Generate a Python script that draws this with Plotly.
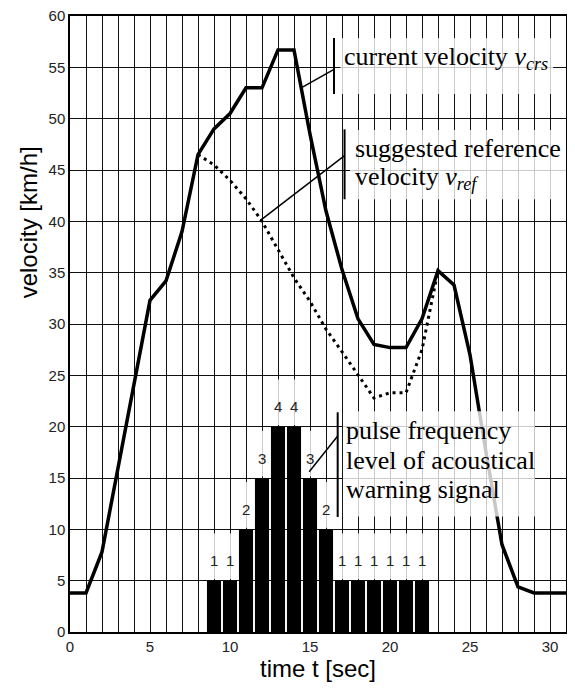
import plotly.graph_objects as go

# ---- data ----
t_crs = list(range(0, 32))
v_crs = [3.8, 3.8, 7.8, 16.0, 24.5, 32.3, 34.2, 39.0, 46.5, 49.0, 50.5, 53.0, 53.0, 56.7, 56.7, 48.5,
         41.0, 35.3, 30.5, 28.0, 27.7, 27.7, 30.5, 35.2, 33.8, 27.0, 17.5, 8.5, 4.4, 3.8, 3.8, 3.8]

t_ref = list(range(8, 24))
v_ref = [46.5, 45.5, 44.0, 42.2, 40.0, 37.3, 34.5, 32.2, 29.5, 27.3, 25.0, 22.8, 23.3, 23.3, 27.5, 35.2]

t_bar = list(range(9, 23))
bar_vals = [5, 5, 10, 15, 20, 20, 15, 10, 5, 5, 5, 5, 5, 5]
bar_labels = ["1", "1", "2", "3", "4", "4", "3", "2", "1", "1", "1", "1", "1", "1"]

x_ticks = [0, 5, 10, 15, 20, 25, 30]
y_ticks = list(range(0, 61, 5))

SERIF = "Liberation Serif, Times New Roman, serif"
SANS = "Arial, Liberation Sans, sans-serif"

fig = go.Figure()

fig.add_trace(go.Bar(x=t_bar, y=bar_vals, width=0.88, marker=dict(color="black", line=dict(width=0)),
                     showlegend=False, hoverinfo="skip"))
fig.add_trace(go.Scatter(x=t_ref, y=v_ref, mode="lines",
                         line=dict(color="black", width=3, dash="3px,4px"), showlegend=False))
fig.add_trace(go.Scatter(x=t_crs, y=v_crs, mode="lines",
                         line=dict(color="black", width=3.5), showlegend=False))

shapes = []
BOX = "rgba(255,255,255,0.78)"
# label boxes above bars
for xb, yb in zip(t_bar, bar_vals):
    shapes.append(dict(type="rect", xref="x", yref="y", x0=xb - 0.5, x1=xb + 0.5, y0=yb + 0.15, y1=yb + 4.6,
                       fillcolor=BOX, line=dict(width=0), layer="above"))

# text boxes
text_boxes = [(16.9, 30.2, 52.4, 57.85), (17.5, 31.0, 42.15, 48.9), (17.06, 29.06, 11.24, 21.5)]
for x0, x1, y0, y1 in text_boxes:
    shapes.append(dict(type="rect", xref="x", yref="y", x0=x0, x1=x1, y0=y0, y1=y1,
                       fillcolor=BOX, line=dict(width=0), layer="above"))

# bracket bars and leader lines
brackets = [(16.5, 52.4, 57.85), (17.16, 42.15, 48.96), (16.73, 11.2, 21.4)]
for xb, y0, y1 in brackets:
    shapes.append(dict(type="line", xref="x", yref="y", x0=xb, x1=xb, y0=y0, y1=y1,
                       line=dict(color="black", width=2), layer="above"))
leaders = [(16.5, 54.8, 14.45, 53.0), (17.16, 46.4, 11.9, 40.1), (16.73, 19.1, 14.95, 15.6)]
for x0, y0, x1, y1 in leaders:
    shapes.append(dict(type="line", xref="x", yref="y", x0=x0, y0=y0, x1=x1, y1=y1,
                       line=dict(color="black", width=1.5), layer="above"))

annotations = []
for xb, yb, lab in zip(t_bar, bar_vals, bar_labels):
    annotations.append(dict(x=xb, y=yb, yshift=20, text=lab, showarrow=False, xanchor="center",
                            yanchor="middle", font=dict(family=SANS, size=15, color="#222")))

text_lines = [
    (17.0, 55.9, "current velocity <i>v<sub>crs</sub></i>"),
    (17.7, 47.1, "suggested reference"),
    (17.7, 44.2, "velocity <i>v<sub>ref</sub></i>"),
    (17.15, 19.6, "pulse frequency"),
    (17.15, 16.75, "level of acoustical"),
    (17.15, 13.85, "warning signal"),
]
for x, y, txt in text_lines:
    annotations.append(dict(x=x, y=y, text=txt, showarrow=False, xanchor="left", yanchor="middle",
                            font=dict(family=SERIF, size=26, color="black")))

annotations.append(dict(xref="paper", yref="paper", x=0, y=0.665, xshift=-42, text="velocity [km/h]",
                        textangle=-90, showarrow=False, xanchor="center", yanchor="middle",
                        font=dict(family=SANS, size=24, color="black")))

GRID = "#111111"
fig.update_layout(
    width=559, height=678,
    margin=dict(l=62, r=1, t=8, b=54, autoexpand=False),
    paper_bgcolor="white", plot_bgcolor="white",
    bargap=0.1,
    shapes=shapes, annotations=annotations,
    xaxis=dict(range=[0, 31], tickvals=x_ticks, showgrid=True, gridcolor=GRID, gridwidth=1.3,
               minor=dict(dtick=1, tick0=0, showgrid=True, gridcolor=GRID, gridwidth=1.3),
               showline=True, linecolor="black", linewidth=1.5, mirror=True, zeroline=False,
               automargin=False, ticklabeloverflow="allow",
               ticks="", tickfont=dict(family=SANS, size=15, color="#222"),
               title=dict(text="time t [sec]", font=dict(family=SANS, size=24, color="black"), standoff=2)),
    yaxis=dict(range=[0, 60], tickvals=y_ticks, showgrid=True, gridcolor=GRID, gridwidth=1.3,
               showline=True, linecolor="black", linewidth=1.5, mirror=True, zeroline=False,
               automargin=False, ticklabeloverflow="allow",
               ticks="", tickfont=dict(family=SANS, size=15, color="#222")),
)

fig.write_html("out.html")
